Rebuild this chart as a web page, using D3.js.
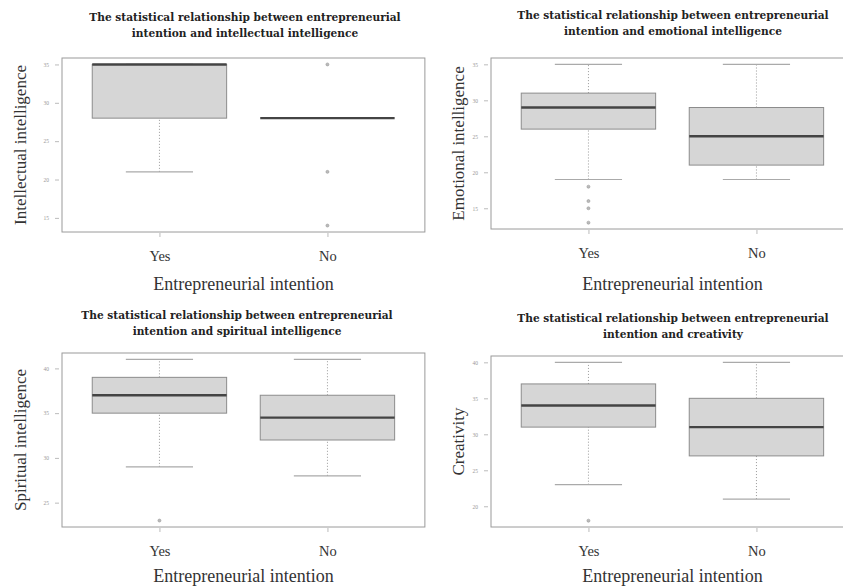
<!DOCTYPE html>
<html>
<head>
<meta charset="utf-8">
<script src="https://cdn.jsdelivr.net/npm/d3@7"></script>
<style>
  html, body { margin: 0; padding: 0; background: #fff; }
  svg { display: block; }
</style>
</head>
<body>
<svg id="chart" width="843" height="586"></svg>
<script>
// Groups on the x axis
const groups = ["Yes", "No"];

// Box statistics per group: [lower whisker, Q1, median, Q3, upper whisker]
const intellectualBoxes = [[21, 28, 35, 35, 35], [28, 28, 28, 28, 28]];
const intellectualOutliers = [[], [35, 21, 14]];
const intellectualTicks = [15, 20, 25, 30, 35];

const emotionalBoxes = [[19, 26, 29, 31, 35], [19, 21, 25, 29, 35]];
const emotionalOutliers = [[18, 16, 15, 13], []];
const emotionalTicks = [15, 20, 25, 30, 35];

const spiritualBoxes = [[29, 35, 37, 39, 41], [28, 32, 34.5, 37, 41]];
const spiritualOutliers = [[23], []];
const spiritualTicks = [25, 30, 35, 40];

const creativityBoxes = [[23, 31, 34, 37, 40], [21, 27, 31, 35, 40]];
const creativityOutliers = [[18], []];
const creativityTicks = [20, 25, 30, 35, 40];

const panels = [
  { title: ["The statistical relationship between entrepreneurial", "intention and intellectual intelligence"],
    ylabel: "Intellectual intelligence", boxes: intellectualBoxes, outliers: intellectualOutliers,
    ticks: intellectualTicks, left: 62, top: 58, bottom: 232, titleX: 245, titleY: 21, ylabX: 20, xlabY: 290 },
  { title: ["The statistical relationship between entrepreneurial", "intention and emotional intelligence"],
    ylabel: "Emotional intelligence", boxes: emotionalBoxes, outliers: emotionalOutliers,
    ticks: emotionalTicks, left: 491, top: 58, bottom: 229, titleX: 673, titleY: 19, ylabX: 458, xlabY: 290 },
  { title: ["The statistical relationship between entrepreneurial", "intention and spiritual intelligence"],
    ylabel: "Spiritual intelligence", boxes: spiritualBoxes, outliers: spiritualOutliers,
    ticks: spiritualTicks, left: 62, top: 353, bottom: 527, titleX: 237, titleY: 319, ylabX: 20, xlabY: 582 },
  { title: ["The statistical relationship between entrepreneurial", "intention and creativity"],
    ylabel: "Creativity", boxes: creativityBoxes, outliers: creativityOutliers,
    ticks: creativityTicks, left: 491, top: 356, bottom: 527, titleX: 673, titleY: 322, ylabX: 458, xlabY: 582 }
];

const svg = d3.select("#chart");
const serif = "'Liberation Serif', 'DejaVu Serif', serif";
const titleFont = "'DejaVu Serif', serif";
const axisGray = "#9a9a9a";
const slotWidth = 168;   // pixel distance between the two group centres

panels.forEach(p => {
  const g = svg.append("g");

  // R-style extended ranges: 4% padding on both axes
  const allVals = p.boxes.flat().concat(p.outliers.flat());
  const lo = d3.min(allVals), hi = d3.max(allVals);
  const pad = (hi - lo) * 0.04;
  const y = d3.scaleLinear().domain([lo - pad, hi + pad]).range([p.bottom, p.top]);

  const x = d3.scaleLinear().domain([0.42, 2.58])
    .range([p.left, p.left + 2.16 * slotWidth]);

  // Title
  const t = g.append("text")
    .attr("x", p.titleX).attr("y", p.titleY)
    .attr("text-anchor", "middle")
    .attr("font-family", titleFont).attr("font-weight", "bold")
    .attr("font-size", 10.6).attr("fill", "#222");
  p.title.forEach((line, i) => {
    t.append("tspan").attr("x", p.titleX).attr("dy", i === 0 ? 0 : 16).text(line);
  });

  // Plot frame
  g.append("rect")
    .attr("x", x.range()[0]).attr("y", p.top)
    .attr("width", x.range()[1] - x.range()[0]).attr("height", p.bottom - p.top)
    .attr("fill", "none").attr("stroke", axisGray).attr("stroke-width", 1);

  // Y axis
  const yAxis = d3.axisLeft(y).tickValues(p.ticks).tickSize(4).tickPadding(6)
    .tickFormat(d3.format("d"));
  const ya = g.append("g").attr("transform", `translate(${p.left - 3},0)`).call(yAxis);
  ya.select(".domain").remove();
  ya.selectAll("line").attr("stroke", "#bbb");
  ya.selectAll("text").attr("font-size", 5.5).attr("fill", "#999").attr("font-family", serif);

  // X axis
  const xAxis = d3.axisBottom(x).tickValues([1, 2]).tickSize(4).tickPadding(14)
    .tickFormat((d, i) => groups[i]);
  const xa = g.append("g").attr("transform", `translate(0,${p.bottom + 1})`).call(xAxis);
  xa.select(".domain").remove();
  xa.selectAll("line").attr("stroke", "#bbb");
  xa.selectAll("text").attr("font-size", 14.5).attr("fill", "#333").attr("font-family", serif);

  // Axis titles
  g.append("text")
    .attr("x", x(1.5)).attr("y", p.xlabY)
    .attr("text-anchor", "middle").attr("font-family", serif)
    .attr("font-size", 18).attr("fill", "#333")
    .text("Entrepreneurial intention");

  g.append("text")
    .attr("transform", `translate(${p.ylabX},${(p.top + p.bottom) / 2}) rotate(-90)`)
    .attr("text-anchor", "middle").attr("dy", "0.35em").attr("font-family", serif)
    .attr("font-size", 17).attr("fill", "#333")
    .text(p.ylabel);

  // Boxes
  const boxHalf = 0.4, stapleHalf = 0.2;
  p.boxes.forEach((b, i) => {
    const cx = i + 1;
    const [wLo, q1, med, q3, wHi] = b;
    // whiskers
    [[wLo, q1], [q3, wHi]].forEach(([a, c]) => {
      if (a !== c) {
        g.append("line")
          .attr("x1", x(cx)).attr("x2", x(cx)).attr("y1", y(a)).attr("y2", y(c))
          .attr("stroke", "#999").attr("stroke-width", 1).attr("stroke-dasharray", "1,2");
      }
    });
    // staples
    if (!(wLo === q1 && wHi === q3)) {
      [wLo, wHi].forEach(v => {
        g.append("line")
          .attr("x1", x(cx - stapleHalf)).attr("x2", x(cx + stapleHalf))
          .attr("y1", y(v)).attr("y2", y(v))
          .attr("stroke", "#aaa").attr("stroke-width", 1.2);
      });
    }
    // box body
    g.append("rect")
      .attr("x", x(cx - boxHalf)).attr("y", y(q3))
      .attr("width", x(cx + boxHalf) - x(cx - boxHalf))
      .attr("height", Math.max(0, y(q1) - y(q3)))
      .attr("fill", "#d6d6d6").attr("stroke", "#8c8c8c").attr("stroke-width", 1);
    // median
    g.append("line")
      .attr("x1", x(cx - boxHalf)).attr("x2", x(cx + boxHalf))
      .attr("y1", y(med)).attr("y2", y(med))
      .attr("stroke", "#444").attr("stroke-width", 2.4);
  });

  // Outliers
  p.outliers.forEach((arr, i) => {
    g.selectAll(null).data(arr).enter().append("circle")
      .attr("cx", x(i + 1)).attr("cy", d => y(d)).attr("r", 1.5)
      .attr("fill", "#bbb").attr("stroke", "#999").attr("stroke-width", 0.6);
  });
});
</script>
</body>
</html>
